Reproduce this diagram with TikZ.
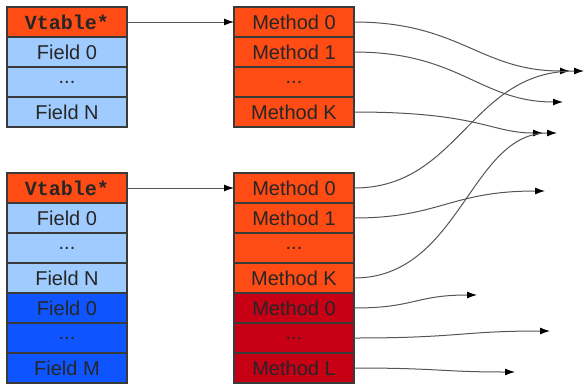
\documentclass[tikz,border=0pt]{standalone}
\usepackage{fontspec}
\setmainfont{Liberation Sans}
\setmonofont{Liberation Mono}
\usepackage{xcolor}
\usepackage{tikz}
\usetikzlibrary{arrows.meta}

\definecolor{vtred}{HTML}{FF4B14}
\definecolor{fieldblue}{HTML}{9FCBFF}
\definecolor{subblue}{HTML}{0F55FF}
\definecolor{subred}{HTML}{C80016}
\definecolor{cellline}{HTML}{3A3A3A}
\definecolor{celltext}{HTML}{262626}
\definecolor{linkgray}{HTML}{555555}

\newcommand{\moredots}{...}

\tikzset{
  cell/.style={draw=cellline,line width=1.1pt,minimum width=120pt,minimum height=30pt,
    inner sep=0pt,outer sep=0pt,text=celltext,font=\fontsize{20pt}{22pt}\selectfont},
  vptr/.style={font=\fontsize{20pt}{22pt}\selectfont\ttfamily\bfseries},
  link/.style={draw=linkgray,line width=1pt,-{Latex[length=10pt,width=7pt,color=black]}}
}

\begin{document}
\begin{tikzpicture}[x=1pt,y=-1pt]
  \useasboundingbox (0,0) rectangle (585,383);

  % first object and its vtable
  \node[cell,fill=vtred,vptr] (objA0) at (67,22) {Vtable*};
  \foreach \i/\lbl in {1/Field 0,2/\moredots,3/Field N}
    \node[cell,fill=fieldblue] (objA\i) at (67,22+30*\i) {\lbl};
  \foreach \i/\lbl in {0/Method 0,1/Method 1,2/\moredots,3/Method K}
    \node[cell,fill=vtred] (vtA\i) at (294,22+30*\i) {\lbl};

  % derived object and its vtable
  \node[cell,fill=vtred,vptr] (objB0) at (67,188) {Vtable*};
  \foreach \i/\lbl in {1/Field 0,2/\moredots,3/Field N}
    \node[cell,fill=fieldblue] (objB\i) at (67,188+30*\i) {\lbl};
  \foreach \i/\lbl in {4/Field 0,5/\moredots,6/Field M}
    \node[cell,fill=subblue] (objB\i) at (67,188+30*\i) {\lbl};
  \foreach \i/\lbl in {0/Method 0,1/Method 1,2/\moredots,3/Method K}
    \node[cell,fill=vtred] (vtB\i) at (294,188+30*\i) {\lbl};
  \foreach \i/\lbl in {4/Method 0,5/\moredots,6/Method L}
    \node[cell,fill=subred] (vtB\i) at (294,188+30*\i) {\lbl};

  \draw[link] (objA0) -- (vtA0);
  \draw[link] (objB0) -- (vtB0);

  % code the entries point to
  \coordinate (codeA0) at (570,71);
  \coordinate (codeA1) at (563,102);
  \coordinate (codeAK) at (543,133);
  \coordinate (codeB0) at (584,71);
  \coordinate (codeB1) at (545,191);
  \coordinate (codeBK) at (557,133);
  \coordinate (codeC0) at (477,295);
  \coordinate (codeC1) at (550,331);
  \coordinate (codeCL) at (515,372);

  \draw[link] (vtA0.east) .. controls (460,22) and (480,71) .. (codeA0);
  \draw[link] (vtA1.east) .. controls (460,52) and (480,102) .. (codeA1);
  \draw[link] (vtA3.east) .. controls (480,112) and (490,133) .. (codeAK);
  \draw[link] (vtB0.east) .. controls (460,188) and (470,71) .. (codeB0);
  \draw[link] (vtB1.east) .. controls (440,218) and (450,191) .. (codeB1);
  \draw[link] (vtB3.east) .. controls (460,278) and (470,133) .. (codeBK);
  \draw[link] (vtB4.east) .. controls (415,308) and (415,295) .. (codeC0);
  \draw[link] (vtB5.east) .. controls (460,338) and (460,331) .. (codeC1);
  \draw[link] (vtB6.east) .. controls (440,368) and (440,372) .. (codeCL);
\end{tikzpicture}
\end{document}
